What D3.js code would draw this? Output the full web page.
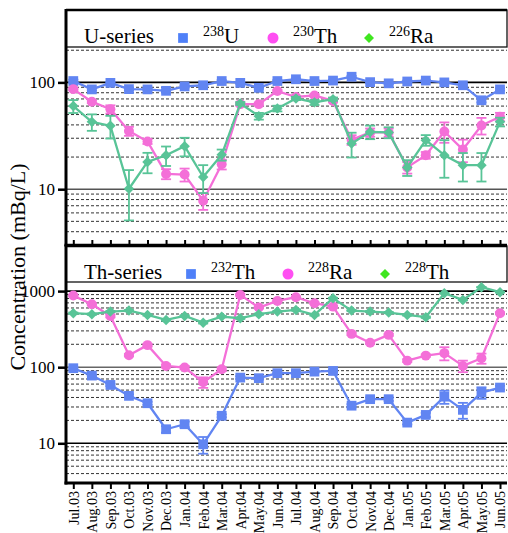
<!DOCTYPE html>
<html><head><meta charset="utf-8">
<script src="https://cdn.jsdelivr.net/npm/d3@7"></script>
<style>body{margin:0;background:#fff}svg{display:block} text{font-family:"Liberation Serif","Times New Roman","DejaVu Serif",serif;}</style>
</head><body>
<script>
const months = ["Jul.03","Aug.03","Sep.03","Oct.03","Nov.03","Dec.03","Jan.04","Feb.04","Mar.04","Apr.04","May.04","Jun.04","Jul.04","Aug.04","Sep.04","Oct.04","Nov.04","Dec.04","Jan.05","Feb.05","Mar.05","Apr.05","May.05","Jun.05"];

// U-series
const u238     = [103,86,99,86.5,86,83.4,91.7,94,103,99,89,103,107,103,104,113,100.6,98,102,104,100,94,68,86];
const u238Err  = [3,2,2,2,2,2,2,2,2,2,2,2,2,2,2,2,2,2,2,2,2,2,3,2];
const th230    = [86.5,66,56,35,28,13.9,13.7,7.8,17.1,62.6,62.6,83,73,75.5,67,29,34,34,16,20.8,34.7,23.5,39.5,47.6];
const th230Err = [2,2,5,3.4,1.5,1.5,1.9,1.4,1.8,2,2,2,2,2,2,3,3,3,2,1.5,7.5,5.6,7,4.3];
const ra226    = [60,42.7,39.2,10.1,18,20.8,25.3,13,21,63.5,48.3,57,70.8,65,69.7,26.8,34.4,34,16,28.8,20.8,16.8,16.8,42.7];
const ra226Err = [8.3,7.5,9.4,5,3.9,4.3,5,3.8,2.5,2,3.5,3.5,2.5,3.5,2.5,7,5,4,2.7,3.3,8,5,5,4];

// Th-series
const th232    = [97,77.6,58.5,42,33.6,15.3,17.8,9.7,23,73,71.7,83.4,83.4,87.5,89.3,31.2,38,38,18.7,23.6,41,27.5,46.4,54];
const th232Err = [3,2,2,2,1.5,1.5,1.5,2.4,1,3,3,2,2,2,2,1.5,2,2,1,1.5,8,6.5,8,3];
const ra228    = [873,673,472,144,195,104,98.9,63.5,94,891,607,743,832,693,625,274,210,266,122,142,153,104,131,513];
const ra228Err = [20,20,20,5,8,5,5,10,5,20,15,15,15,15,15,10,8,8,5,5,30,18,20,15];
const th228    = [513,497,538,554,486,418,472,385,462,440,497,538,566,486,807,554,538,522,486,454,938,766,1125,968];
const th228Err = [10,10,10,10,10,10,10,10,10,10,10,10,10,10,10,10,10,10,10,10,10,10,10,10];

const topTicks = [10,100];
const botTicks = [10,100,1000];

const W = 508, H = 533;
const font = '"Liberation Serif","Times New Roman","DejaVu Serif",serif';
const colBlue = "#6185f2", colPink = "#f46fd8", colGreen = "#58c497";
const legBlue = "#4f80f8", legPink = "#ff4ff2", legGreen = "#3fe61f";

const svg = d3.select("body").append("svg").attr("width", W).attr("height", H);

const xL = 66, xR = 507;
const x = d3.scalePoint().domain(months).range([73.3, 500]);

function markerTransform(s, px, py) {
  return s.rot ? `translate(${px},${py}) rotate(45)` : `translate(${px},${py})`;
}

function panel(cfg) {
  const g = svg.append("g");
  const y = cfg.y;
  const minor = [];
  for (let d = 1; d <= 1000; d *= 10) for (let k = 2; k <= 9; k++) {
    const v = k * d;
    const py = y(v);
    if (py > cfg.top && py < cfg.bottom) minor.push(v);
  }
  g.selectAll(".gm").data(minor).join("line")
    .attr("x1", xL).attr("x2", xR).attr("y1", d => y(d)).attr("y2", d => y(d))
    .attr("stroke", "#333").attr("stroke-width", 1).attr("stroke-dasharray", "3,2");
  g.selectAll(".gM").data(cfg.ticks).join("line")
    .attr("x1", xL).attr("x2", xR).attr("y1", d => y(d)).attr("y2", d => y(d))
    .attr("stroke", (d,i) => cfg.majColors[i]).attr("stroke-width", 1.6);

  g.append("rect").attr("x", xL).attr("y", cfg.top).attr("width", xR - xL).attr("height", cfg.legH)
    .attr("fill", "#fff").attr("stroke", "#111").attr("stroke-width", 1.3);
  g.append("line").attr("x1", xL).attr("x2", xR).attr("y1", cfg.top).attr("y2", cfg.top)
    .attr("stroke", "#000").attr("stroke-width", 2.5);

  cfg.series.forEach(s => {
    const vals = s.values;
    const eg = g.append("g").attr("stroke", s.color).attr("stroke-width", 1.8);
    vals.forEach((v, i) => {
      const e = s.err[i];
      const y1 = y(v + e), y2 = y(Math.max(v - e, 0.5));
      const cx = x(months[i]);
      eg.append("line").attr("x1", cx).attr("x2", cx).attr("y1", y1).attr("y2", y2);
      eg.append("line").attr("x1", cx - 5).attr("x2", cx + 5).attr("y1", y1).attr("y2", y1);
      eg.append("line").attr("x1", cx - 5).attr("x2", cx + 5).attr("y1", y2).attr("y2", y2);
    });
    const line = d3.line().x((d, i) => x(months[i])).y(d => y(d));
    g.append("path").datum(vals).attr("d", line).attr("fill", "none")
      .attr("stroke", s.color).attr("stroke-width", 2.3).attr("stroke-linejoin", "round");
    const sym = d3.symbol().type(s.shape).size(s.size);
    g.selectAll(null).data(vals).join("path")
      .attr("d", sym)
      .attr("transform", (d, i) => markerTransform(s, x(months[i]), y(d)))
      .attr("fill", s.color);
  });

  g.append("text").attr("x", 84).attr("y", cfg.legBase).attr("font-size", 21).style("font-family", font).text(cfg.title);
  cfg.series.forEach(s => {
    g.append("path").attr("d", d3.symbol().type(s.shape).size(s.legSize)())
      .attr("transform", markerTransform(s, s.lx, cfg.legBase - 5)).attr("fill", s.legColor);
    const t = g.append("text").attr("x", s.lx + 20).attr("y", cfg.legBase).attr("font-size", 21).style("font-family", font);
    t.append("tspan").attr("font-size", 14).attr("dy", -7).text(s.sup);
    t.append("tspan").attr("dy", 7).text(s.el);
  });

  const ax = d3.axisLeft(y).tickValues(cfg.ticks).tickFormat(d3.format("d")).tickSize(8).tickPadding(3);
  const ag = g.append("g").attr("transform", `translate(${xL},0)`).call(ax);
  ag.attr("font-family", null);
  ag.select(".domain").remove();
  ag.selectAll(".tick line").attr("stroke", "#000").attr("stroke-width", 2.5);
  ag.selectAll(".tick text").attr("font-size", 17).style("font-family", font).attr("fill", "#000");
  g.append("line").attr("x1", xL).attr("x2", xL).attr("y1", cfg.top - 1).attr("y2", cfg.bottom + 1.5)
    .attr("stroke", "#000").attr("stroke-width", 3);
}

const yTop = d3.scaleLog().domain([10, 100]).range([189.2, 82.4]);
const yBot = d3.scaleLog().domain([10, 1000]).range([443.3, 291.1]);

panel({
  y: yTop, top: 10, bottom: 245, legH: 37, legBase: 43, title: "U-series",
  ticks: topTicks, majColors: ["#555", "#000"],
  series: [
    {values: u238, err: u238Err, color: colBlue, legColor: legBlue, shape: d3.symbolSquare, size: 95, legSize: 95, lx: 183, sup: "238", el: "U"},
    {values: th230, err: th230Err, color: colPink, legColor: legPink, shape: d3.symbolCircle, size: 78, legSize: 95, lx: 273, sup: "230", el: "Th"},
    {values: ra226, err: ra226Err, color: colGreen, legColor: legGreen, shape: d3.symbolSquare, rot: true, size: 55, legSize: 50, lx: 369, sup: "226", el: "Ra"}
  ]
});
panel({
  y: yBot, top: 246, bottom: 483, legH: 36, legBase: 279, title: "Th-series",
  ticks: botTicks, majColors: ["#000", "#666", "#000"],
  series: [
    {values: th232, err: th232Err, color: colBlue, legColor: legBlue, shape: d3.symbolSquare, size: 95, legSize: 95, lx: 191, sup: "232", el: "Th"},
    {values: ra228, err: ra228Err, color: colPink, legColor: legPink, shape: d3.symbolCircle, size: 78, legSize: 95, lx: 288, sup: "228", el: "Ra"},
    {values: th228, err: th228Err, color: colGreen, legColor: legGreen, shape: d3.symbolSquare, rot: true, size: 55, legSize: 50, lx: 385, sup: "228", el: "Th"}
  ]
});

const xa1 = svg.append("g").attr("transform", "translate(0,245)")
  .call(d3.axisTop(x).tickSize(5).tickFormat(""));
xa1.select(".domain").remove();
xa1.selectAll(".tick line").attr("stroke", "#000").attr("stroke-width", 2);
svg.append("line").attr("x1", xL - 1.5).attr("x2", xR).attr("y1", 245).attr("y2", 245)
  .attr("stroke", "#000").attr("stroke-width", 2.5);

const xa2 = svg.append("g").attr("transform", "translate(0,483)")
  .call(d3.axisBottom(x).tickSize(6).tickPadding(3));
xa2.attr("font-family", null);
xa2.select(".domain").remove();
xa2.selectAll(".tick line").attr("stroke", "#000").attr("stroke-width", 2);
xa2.selectAll(".tick text")
  .attr("font-size", 14).style("font-family", font).attr("fill", "#000")
  .attr("text-anchor", "end").attr("transform", "rotate(-90)")
  .attr("x", -8).attr("y", 0).attr("dy", "0.35em");
svg.append("line").attr("x1", xL - 1.5).attr("x2", xR).attr("y1", 483).attr("y2", 483)
  .attr("stroke", "#000").attr("stroke-width", 3);

svg.append("text").attr("transform", "translate(25,267) rotate(-90)")
  .attr("text-anchor", "middle").attr("font-size", 22).style("font-family", font).text("Concentration (mBq/L)");
</script>
</body></html>
